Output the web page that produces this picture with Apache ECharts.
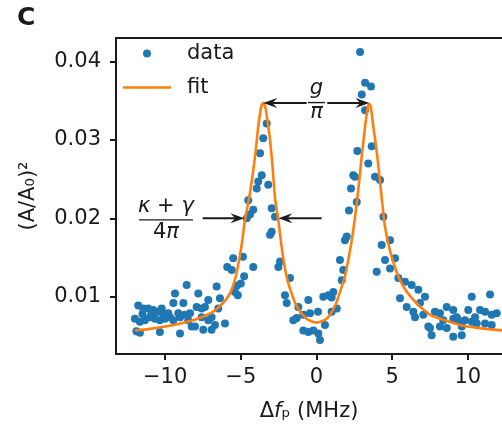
<!DOCTYPE html>
<html><head><meta charset="utf-8">
<script src="https://cdn.jsdelivr.net/npm/echarts@6/dist/echarts.min.js"></script>
<style>html,body{margin:0;padding:0;background:#fff}#c{width:502px;height:428px}</style>
</head><body><div id="c"></div>
<script>
// ---- data ----
const xTicks = [-10, -5, 0, 5, 10];
const yTicks = [0.01, 0.02, 0.03, 0.04];
const xRange = [-13.25, 12.26];
const yRange = [0.0027, 0.0430];

const tailLeft = [[-12.00,0.0072],[-11.78,0.0089],[-11.67,0.0068],[-11.90,0.0056],[-11.67,0.0054],[-11.45,0.0085],[-11.34,0.0070],[-11.12,0.0085],[-11.01,0.0074],[-10.79,0.0083],[-10.68,0.0072],[-10.45,0.0081],[-10.35,0.0070],[-10.35,0.0055],[-10.23,0.0085],[-10.02,0.0072],[-9.68,0.0074],[-9.46,0.0070],[-9.46,0.0092],[-9.35,0.0104],[-9.13,0.0079],[-9.02,0.0074],[-9.02,0.0053],[-8.80,0.0092],[-8.69,0.0077],[-8.58,0.0115],[-8.47,0.0070],[-8.36,0.0079],[-8.25,0.0062],[-8.03,0.0062],[-7.92,0.0087],[-7.81,0.0104],[-7.59,0.0085],[-7.59,0.0074],[-7.48,0.0058],[-7.37,0.0087],[-7.15,0.0096],[-7.15,0.0070],[-6.93,0.0074],[-6.93,0.0058],[-6.71,0.0064],[-6.60,0.0113],[-6.49,0.0085],[-6.38,0.0098],[-6.05,0.0066],[-5.90,0.0138],[-5.60,0.0134],[-5.50,0.0149],[-4.86,0.0151],[-4.18,0.0138],[-4.78,0.0126],[-5.00,0.0117],[-5.27,0.0114],[-5.39,0.0106],[-5.20,0.0102],[-11.50,0.0078],[-10.90,0.0079],[-10.10,0.0077],[-9.80,0.0079]];
const peakLeft = [[-3.29,0.0321],[-3.52,0.0302],[-3.73,0.0283],[-3.62,0.0255],[-3.85,0.0247],[-3.95,0.0238],[-3.19,0.0243],[-4.51,0.0223],[-4.18,0.0211],[-4.40,0.0205],[-4.61,0.0200],[-2.96,0.0213],[-2.74,0.0202],[-2.96,0.0183],[-3.07,0.0179]];
const centre = [[-2.41,0.0145],[-2.52,0.0138],[-1.75,0.0124],[-2.08,0.0102],[-1.97,0.0092],[-1.20,0.0087],[-0.54,0.0096],[-1.53,0.0070],[-1.31,0.0073],[-0.87,0.0077],[-0.43,0.0079],[0.10,0.0081],[-0.87,0.0057],[-0.54,0.0055],[-0.21,0.0057],[0.12,0.0053],[0.23,0.0045],[0.56,0.0064],[0.45,0.0100],[0.78,0.0102],[1.11,0.0106],[1.00,0.0099],[1.34,0.0085],[1.00,0.0081],[1.55,0.0147],[1.67,0.0121],[1.77,0.0134],[1.88,0.0172],[2.00,0.0177]];
const peakRight = [[2.88,0.0412],[3.21,0.0373],[3.60,0.0368],[2.99,0.0358],[3.21,0.0338],[3.65,0.0292],[2.70,0.0286],[3.42,0.0270],[2.43,0.0255],[2.54,0.0253],[3.87,0.0253],[4.20,0.0249],[2.28,0.0238],[2.66,0.0221],[2.15,0.0210],[4.42,0.0202]];
const sideRight = [[4.86,0.0172],[4.31,0.0166],[4.53,0.0147],[5.19,0.0149],[4.86,0.0136],[3.98,0.0132],[5.41,0.0124],[5.85,0.0119],[6.29,0.0115],[6.73,0.0109],[7.17,0.0100],[5.52,0.0098],[5.96,0.0087],[6.40,0.0081],[6.84,0.0092],[6.51,0.0074],[7.06,0.0077],[7.39,0.0062]];
const tailRight = [[7.50,0.0060],[7.61,0.0051],[7.83,0.0081],[8.16,0.0079],[8.61,0.0087],[8.38,0.0070],[8.16,0.0062],[8.61,0.0060],[9.04,0.0072],[9.27,0.0074],[9.37,0.0070],[9.04,0.0049],[9.60,0.0051],[10.03,0.0083],[9.81,0.0070],[10.26,0.0068],[10.26,0.0100],[11.47,0.0103],[10.81,0.0083],[11.14,0.0081],[11.58,0.0077],[11.91,0.0079],[10.48,0.0074],[10.59,0.0066],[11.14,0.0066],[11.58,0.0064],[9.60,0.0062],[9.04,0.0083]];

const fitX = [-12.0,-11.0,-10.0,-9.0,-8.0,-7.0,-6.5,-6.0,-5.7,-5.4,-5.1,-4.9,-4.75,-4.4,-4.06,-3.85,-3.67,-3.6,-3.52,-3.44,-3.35,-3.07,-2.89,-2.74,-2.52,-2.3,-2.1,-1.86,-1.31,-0.65,0.0,0.67,1.22,1.55,1.88,2.33,2.66,2.99,3.21,3.40,3.49,3.58,3.75,4.02,4.31,4.53,4.97,5.63,6.40,7.50,8.16,9.48,10.81,12.3];
const fitY = [0.0057,0.0059,0.0062,0.0066,0.0071,0.0079,0.0086,0.0096,0.0105,0.0121,0.0148,0.0172,0.0195,0.0232,0.0279,0.0317,0.0341,0.0345,0.0347,0.0345,0.0339,0.0300,0.0262,0.0226,0.0197,0.0163,0.0138,0.0117,0.0088,0.0072,0.0067,0.0072,0.0088,0.0106,0.0126,0.0172,0.0219,0.0279,0.0317,0.0343,0.0346,0.0343,0.0318,0.0279,0.0226,0.0189,0.0151,0.0117,0.0096,0.0077,0.0072,0.0064,0.0060,0.0057];

// annotation anchors (data units)
const gArrowY = 0.0347, gTipL = -3.52, gTipR = 3.49, gGapL = -0.65, gGapR = 0.71, gTextX = 0.0;
const kArrowY = 0.0200, kLFrom = -7.52, kLTip = -4.77, kRFrom = 0.34, kRTip = -2.52, kTextX = -9.95;

// ---- chart ----
const F = 'DejaVu Sans';
const C = '#1a1a1a';
const chart = echarts.init(document.getElementById('c'), null, {renderer: 'canvas'});
const measured = [].concat(tailLeft, peakLeft, centre, peakRight, sideRight, tailRight);
const lineIcon = 'path://M0,0L0.01,0L0.01,0.01L0,0.01ZM0,2.7L48,2.7L48,5.3L0,5.3ZM0,7.99L0.01,7.99L0.01,8L0,8Z';

const option = {
  animation: false,
  grid: {left: 116, top: 38, width: 386, height: 316, containLabel: false, outerBoundsMode: 'none'},
  legend: {
    orient: 'vertical', left: 123, top: 43, padding: 0,
    itemWidth: 48, itemHeight: 8, itemGap: 13,
    textStyle: {fontSize: 21, fontFamily: F, color: C, lineHeight: 20, padding: [0, 0, 0, 11]},
    data: [{name: 'data', icon: 'circle'}, {name: 'fit', icon: lineIcon}]
  },
  xAxis: [{
    type: 'value', min: xRange[0], max: xRange[1], position: 'bottom',
    axisLine: {show: true, onZero: false, lineStyle: {color: C, width: 2}},
    axisTick: {show: true, length: 6, customValues: xTicks, lineStyle: {color: C, width: 2}},
    axisLabel: {customValues: xTicks, fontSize: 21, fontFamily: F, color: C, margin: 13,
      formatter: v => (v < 0 ? '\u2212' : '') + Math.abs(v)},
    splitLine: {show: false},
    name: '{a|Δ}{i|f}{a|ₚ (MHz)}', nameLocation: 'middle', nameGap: 47,
    nameTextStyle: {fontSize: 21, fontFamily: F, color: C,
      rich: {a: {fontSize: 21, fontFamily: F, color: C}, i: {fontSize: 21, fontFamily: F, color: C, fontStyle: 'italic'}}}
  }, {
    type: 'value', min: xRange[0], max: xRange[1], position: 'top',
    axisLine: {show: true, onZero: false, lineStyle: {color: C, width: 2}},
    axisTick: {show: false}, axisLabel: {show: false}, splitLine: {show: false}
  }],
  yAxis: {
    type: 'value', min: yRange[0], max: yRange[1],
    axisLine: {show: true, onZero: false, lineStyle: {color: C, width: 2}},
    axisTick: {show: true, length: 6, customValues: yTicks, lineStyle: {color: C, width: 2}},
    axisLabel: {customValues: yTicks, fontSize: 21, fontFamily: F, color: C, margin: 15,
      formatter: v => v.toFixed(2)},
    splitLine: {show: false},
    name: '(A/A₀)²', nameLocation: 'middle', nameGap: 77, nameRotate: 90,
    nameTextStyle: {fontSize: 21, fontFamily: F, color: C}
  },
  series: [{
    name: 'data', type: 'scatter', data: measured, symbolSize: 8,
    itemStyle: {color: '#1f77b4', opacity: 1}, z: 2
  }, {
    name: 'fit', type: 'line', data: fitX.map((x, i) => [x, fitY[i]]),
    smooth: 0.25, symbol: 'none', showSymbol: false,
    lineStyle: {color: '#ff7f0e', width: 2.6}, itemStyle: {color: '#ff7f0e'}, z: 3
  }]
};
chart.setOption(option);

function px(x, y) { return chart.convertToPixel({gridIndex: 0}, [x, y]); }
function arrow(from, to) {
  const dx = to[0] - from[0], dy = to[1] - from[1];
  const len = Math.hypot(dx, dy), ux = dx / len, uy = dy / len;
  const L = 14, W = 5, N = 9;
  const base = [to[0] - ux * N, to[1] - uy * N];
  return [
    {type: 'line', z: 100, shape: {x1: from[0], y1: from[1], x2: base[0], y2: base[1]}, style: {stroke: C, lineWidth: 2}},
    {type: 'polygon', z: 100, shape: {points: [to, [to[0] - ux * L - uy * W, to[1] - uy * L + ux * W], base, [to[0] - ux * L + uy * W, to[1] - uy * L - ux * W]]}, style: {fill: C}}
  ];
}
const richI = {i: {fontStyle: 'italic', fontSize: 21, fontFamily: F, fill: C}, n: {fontSize: 21, fontFamily: F, fill: C}};
function frac(cx, barY, halfW, num, den, dy1, dy2) {
  return [
    {type: 'text', z: 100, x: cx, y: barY - dy1, style: {text: num, rich: richI, fontSize: 21, fontFamily: F, fill: C, align: 'center', verticalAlign: 'middle'}},
    {type: 'line', z: 100, shape: {x1: cx - halfW, y1: barY, x2: cx + halfW, y2: barY}, style: {stroke: C, lineWidth: 1.4}},
    {type: 'text', z: 100, x: cx, y: barY + dy2, style: {text: den, rich: richI, fontSize: 21, fontFamily: F, fill: C, align: 'center', verticalAlign: 'middle'}}
  ];
}

const gL = px(gTipL, gArrowY), gR = px(gTipR, gArrowY), gA = px(gGapL, gArrowY), gB = px(gGapR, gArrowY), gT = px(gTextX, gArrowY);
const kA = px(kLFrom, kArrowY), kB = px(kLTip, kArrowY), kC = px(kRFrom, kArrowY), kD = px(kRTip, kArrowY), kT = px(kTextX, kArrowY);

const graphics = [].concat(
  arrow(gA, gL), arrow(gB, gR),
  frac(gT[0], gT[1] - 0.5, 8.5, '{i|g}', '{i|π}', 14, 10),
  arrow(kA, kB), arrow(kC, kD),
  frac(kT[0], kT[1] + 1.5, 27, '{i|κ}{n| + }{i|γ}', '{n|4}{i|π}', 13, 13),
  [{type: 'text', z: 100, left: 17, top: 6, style: {text: 'C', fontSize: 25, fontWeight: 'bold', fontFamily: F, fill: C}}]
);
chart.setOption({graphic: graphics});
</script>
</body></html>
